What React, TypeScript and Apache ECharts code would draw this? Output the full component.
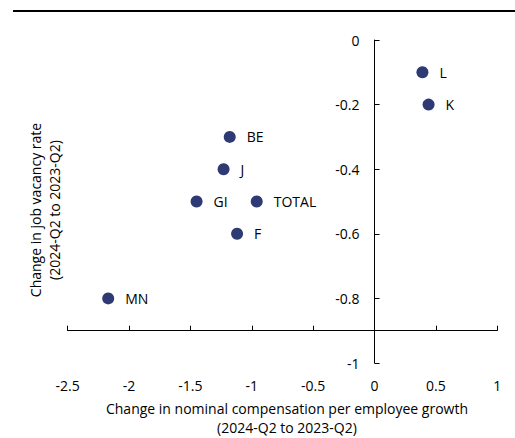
import React, { useEffect, useRef } from "react";
import * as echarts from "echarts";

const labels = ["L", "K", "BE", "J", "GI", "TOTAL", "F", "MN"];
const xValues = [0.39, 0.44, -1.18, -1.23, -1.45, -0.96, -1.12, -2.17];
const yValues = [-0.1, -0.2, -0.3, -0.4, -0.5, -0.5, -0.6, -0.8];

const xName = "Change in nominal compensation per employee growth\n(2024-Q2 to 2023-Q2)";
const yName = "Change in job vacancy rate\n(2024-Q2 to 2023-Q2)";

const FONT = "'Open Sans', sans-serif";
const GRID_TOP = 40;
const GRID_H = 323;
const GRID_LEFT = 67.7;
const GRID_W = 429.6;
const X_MIN = -2.5, X_MAX = 1, Y_MIN = -1, Y_MAX = 0;
const X_CROSS = -0.9; // where the horizontal axis line crosses the y scale
const Y_CROSS = 0; // where the vertical axis line crosses the x scale

export default function App() {
  const ref = useRef<HTMLDivElement>(null);
  useEffect(() => {
    if (!ref.current) return;
    const chart = echarts.init(ref.current, undefined, { renderer: "svg" });
    const crossY = GRID_TOP + ((Y_MAX - X_CROSS) / (Y_MAX - Y_MIN)) * GRID_H;
    const xOffset = -(GRID_TOP + GRID_H - crossY);
    const crossX = GRID_LEFT + ((Y_CROSS - X_MIN) / (X_MAX - X_MIN)) * GRID_W;
    const yOffset = -(crossX - GRID_LEFT);
    chart.setOption({
      animation: false,
      backgroundColor: "#ffffff",
      grid: { left: GRID_LEFT, top: GRID_TOP, width: GRID_W, height: GRID_H },
      xAxis: [
        {
          type: "value",
          min: X_MIN,
          max: X_MAX,
          interval: 0.5,
          position: "bottom",
          offset: xOffset,
          axisLine: { show: true, onZero: false, lineStyle: { color: "#000", width: 1 } },
          axisTick: { show: true, inside: true, length: 5, lineStyle: { color: "#000" } },
          axisLabel: { show: false },
          splitLine: { show: false },
        },
        {
          type: "value",
          min: X_MIN,
          max: X_MAX,
          interval: 0.5,
          position: "bottom",
          axisLine: { show: false, onZero: false },
          axisTick: { show: false },
          axisLabel: { show: true, margin: 15, color: "#000", fontSize: 14, fontFamily: FONT },
          splitLine: { show: false },
        },
      ],
      yAxis: {
        type: "value",
        min: Y_MIN,
        max: Y_MAX,
        interval: 0.2,
        position: "left",
        offset: yOffset,
        axisLine: { show: true, onZero: false, lineStyle: { color: "#000", width: 1 } },
        axisTick: { show: true, inside: true, length: 5, lineStyle: { color: "#000" } },
        axisLabel: { show: true, margin: 15, color: "#000", fontSize: 14, fontFamily: FONT },
        splitLine: { show: false },
      },
      graphic: [
        {
          type: "rect",
          shape: { x: 13, y: 10, width: 502, height: 2 },
          style: { fill: "#000" },
          z: 10,
        },
        {
          type: "text",
          x: 287,
          y: 418,
          style: {
            text: xName,
            fill: "#000",
            font: `14px ${FONT}`,
            textAlign: "center",
            textVerticalAlign: "middle",
            lineHeight: 19,
          },
        },
        {
          type: "text",
          x: 45,
          y: 210,
          rotation: Math.PI / 2,
          style: {
            text: yName,
            fill: "#000",
            font: `14px ${FONT}`,
            textAlign: "center",
            textVerticalAlign: "middle",
            lineHeight: 19,
          },
        },
      ],
      series: [
        {
          type: "scatter",
          xAxisIndex: 0,
          symbol: "circle",
          symbolSize: 12,
          itemStyle: { color: "#2e3a74", opacity: 1 },
          label: {
            show: true,
            position: "right",
            distance: 11,
            color: "#000",
            fontSize: 14,
            fontFamily: FONT,
            formatter: (p: any) => p.data[2],
          },
          data: labels.map((l, i) => [xValues[i], yValues[i], l]),
        },
      ],
    });
    return () => chart.dispose();
  }, []);
  return (
    <div
      ref={ref}
      style={{ position: "fixed", left: 0, top: 0, width: 515, height: 438 }}
    />
  );
}
